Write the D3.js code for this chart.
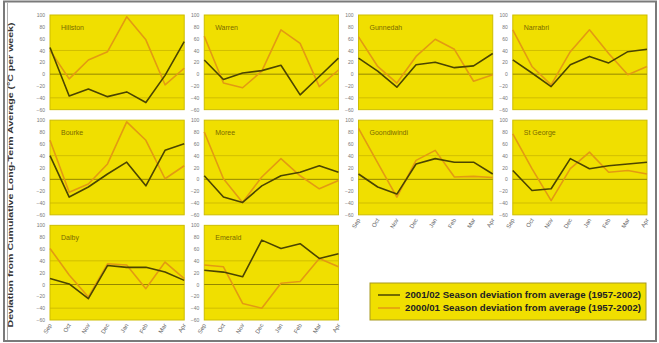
<!DOCTYPE html>
<html>
<head>
<meta charset="utf-8">
<script src="https://cdn.jsdelivr.net/npm/d3@7/dist/d3.min.js"></script>
<style>
  html, body { margin: 0; padding: 0; background: #fff; }
  svg { display: block; font-family: Arial, "Liberation Sans", sans-serif; }
</style>
</head>
<body>
<svg id="chart" width="659" height="343"></svg>
<script>
// Growing-season sites, laid out four to a row
const sites = ["Hillston", "Warren", "Gunnedah", "Narrabri",
               "Bourke", "Moree", "Goondiwindi", "St George",
               "Dalby", "Emerald"];
const months = ["Sep", "Oct", "Nov", "Dec", "Jan", "Feb", "Mar", "Apr"];
const yTicks = [100, 80, 60, 40, 20, 0, -20, -40, -60];
const gridValues = [40, -40];

// 2001/02 season deviation from average (1957-2002), one row per site
const season2001_02 = [
  [45, -37, -25, -38, -30, -48, -2, 55],
  [24, -9, 2, 6, 15, -35, -4, 27],
  [27, 5, -22, 16, 20, 11, 14, 35],
  [24, 2, -21, 16, 30, 19, 38, 42],
  [40, -30, -13, 9, 29, -11, 49, 60],
  [6, -30, -39, -11, 6, 12, 23, 12],
  [9, -13, -25, 26, 35, 29, 29, 9],
  [15, -19, -16, 35, 18, 23, 26, 29],
  [10, 1, -24, 32, 29, 29, 21, 7],
  [24, 21, 13, 75, 61, 69, 44, 52]
];
// 2000/01 season deviation from average (1957-2002)
const season2000_01 = [
  [40, -8, 24, 38, 97, 58, -18, 10],
  [64, -15, -23, 5, 75, 52, -21, 7],
  [63, 13, -15, 30, 59, 42, -12, -1],
  [75, 13, -18, 38, 75, 35, -1, 13],
  [66, -22, -8, 26, 97, 66, 1, 23],
  [80, 1, -39, 4, 35, 6, -16, -2],
  [86, 28, -30, 32, 49, 4, 5, 3],
  [77, 18, -36, 18, 46, 12, 15, 9],
  [61, 16, -21, 35, 33, -7, 38, 10],
  [33, 30, -32, -40, 2, 5, 44, 30]
];
const legendLabels = [
  "2001/02 Season deviation from average (1957-2002)",
  "2000/01 Season deviation from average (1957-2002)"
];

const colBlack = "#4b4400";
const colOrange = "#e39a12";
const panelFill = "#f0df00";

const svg = d3.select("#chart");

// outer frame (double rule on the left)
svg.append("rect")
  .attr("x", 4).attr("y", 1.5).attr("width", 652).attr("height", 339.5)
  .attr("fill", "none").attr("stroke", "#7a7a7a").attr("stroke-width", 2);
svg.append("line")
  .attr("x1", 7.5).attr("x2", 7.5).attr("y1", 2.5).attr("y2", 340)
  .attr("stroke", "#b0b0b0").attr("stroke-width", 1);

const colBand = d3.scaleBand().domain(d3.range(4)).range([50, 647]).paddingInner(0.13);
const rowBand = d3.scaleBand().domain(d3.range(3)).range([15, 320]).paddingInner(0.1);

const pw = colBand.bandwidth();
const ph = rowBand.bandwidth();

const x = d3.scalePoint().domain(months).range([0, pw]);
const y = d3.scaleLinear().domain([-60, 100]).range([ph, 0]);

const line = d3.line().x((d, i) => x(months[i])).y(d => y(d));

sites.forEach((name, k) => {
  const c = k % 4, r = Math.floor(k / 4);
  const g = svg.append("g").attr("transform", `translate(${colBand(c)},${rowBand(r)})`);

  g.append("rect").attr("width", pw).attr("height", ph)
    .attr("fill", panelFill).attr("stroke", "#cdbd00").attr("stroke-width", 1);

  g.selectAll("line.grid").data(gridValues).join("line")
    .attr("class", "grid")
    .attr("x1", 0).attr("x2", pw)
    .attr("y1", d => y(d)).attr("y2", d => y(d))
    .attr("stroke", "#c9b600").attr("stroke-width", 0.8);

  g.append("line")
    .attr("x1", 0).attr("x2", pw).attr("y1", y(0)).attr("y2", y(0))
    .attr("stroke", "#8a7c00").attr("stroke-width", 0.9);

  // y axis tick labels
  const yAxis = d3.axisLeft(y).tickValues(yTicks).tickSize(0).tickPadding(5);
  const ya = g.append("g").call(yAxis);
  ya.select(".domain").remove();
  ya.selectAll("text").attr("font-size", 5).attr("fill", "#777");

  g.append("path").datum(season2000_01[k]).attr("d", line)
    .attr("fill", "none").attr("stroke", colOrange).attr("stroke-width", 1.6)
    .attr("stroke-linejoin", "round");
  g.append("path").datum(season2001_02[k]).attr("d", line)
    .attr("fill", "none").attr("stroke", colBlack).attr("stroke-width", 1.6)
    .attr("stroke-linejoin", "round");

  g.append("text").attr("x", 11).attr("y", 15)
    .attr("font-size", 7).attr("fill", "#7a6a00").text(name);

  // month labels under the lowest panel of each column
  const lastRow = (k + 4 >= sites.length);
  if (lastRow) {
    g.selectAll("text.month").data(months).join("text")
      .attr("class", "month")
      .attr("font-size", 6).attr("fill", "#666")
      .attr("text-anchor", "end")
      .attr("transform", d => `translate(${x(d) + 2},${ph + 5}) rotate(-60)`)
      .text(d => d);
  }
});

// y axis title
svg.append("text")
  .attr("transform", "translate(13,175) rotate(-90)")
  .attr("text-anchor", "middle")
  .attr("font-size", 8).attr("font-weight", "bold").attr("fill", "#333")
  .attr("textLength", 305).attr("lengthAdjust", "spacingAndGlyphs")
  .text("Deviation from Cumulative Long-Term Average (°C per week)");

// legend
const lg = svg.append("g").attr("transform", "translate(370,283)");
lg.append("rect").attr("width", 276).attr("height", 37)
  .attr("fill", panelFill).attr("stroke", "#a89a20").attr("stroke-width", 1);
const legendColors = [colBlack, colOrange];
legendLabels.forEach((t, i) => {
  const yy = 12 + i * 13;
  lg.append("line").attr("x1", 8).attr("x2", 30).attr("y1", yy).attr("y2", yy)
    .attr("stroke", legendColors[i]).attr("stroke-width", 1.5);
  lg.append("text").attr("x", 35).attr("y", yy + 3)
    .attr("font-size", 8.5).attr("font-weight", "bold").attr("fill", "#222")
    .attr("textLength", 236).attr("lengthAdjust", "spacingAndGlyphs")
    .text(t);
});
</script>
</body>
</html>
